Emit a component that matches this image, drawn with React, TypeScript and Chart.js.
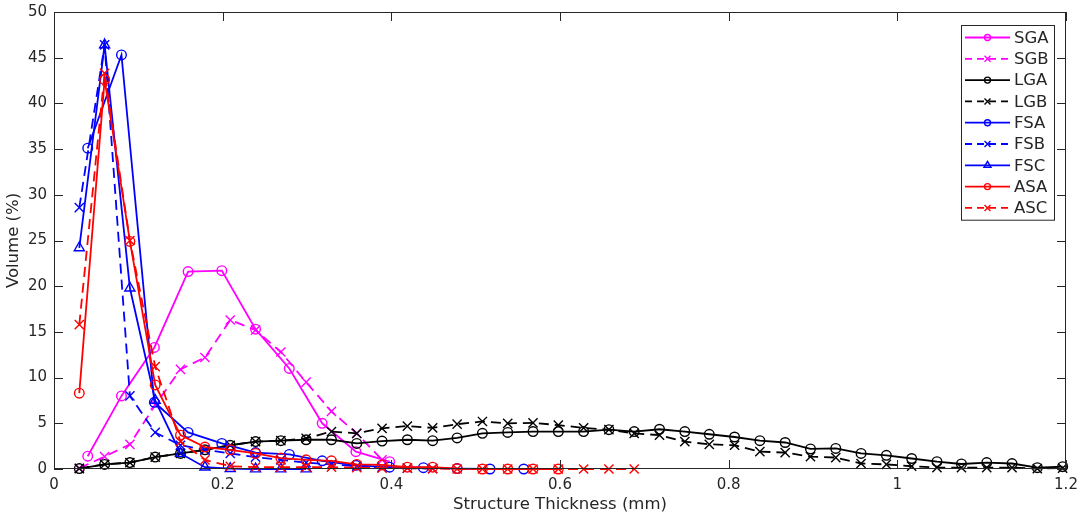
import { useEffect, useRef } from "react"
import { Chart, registerables } from "chart.js"

Chart.register(...registerables)

// bin centres (mm) of the two thickness grids
const X_FINE = [
  0.03, 0.06, 0.09, 0.12, 0.15, 0.179, 0.209, 0.239, 0.269, 0.299,
  0.329, 0.359, 0.389, 0.419, 0.449, 0.478, 0.508, 0.538, 0.568, 0.598,
  0.628, 0.658, 0.688, 0.718, 0.748, 0.777, 0.807, 0.837, 0.867, 0.897,
  0.927, 0.957, 0.987, 1.017, 1.047, 1.076, 1.106, 1.136, 1.166, 1.196,
]
const X_COARSE = [0.04, 0.08, 0.119, 0.159, 0.199, 0.239, 0.279, 0.318, 0.358, 0.398, 0.438, 0.478, 0.517, 0.557]

// volume (%)
const SGA = [1.4, 8.0, 13.3, 21.6, 21.7, 15.3, 11.0, 5.0, 1.9, 0.8]
const SGB = [0.1, 1.35, 2.7, 7.0, 10.9, 12.2, 16.3, 15.2, 12.8, 9.5, 6.3, 3.9, 1.0]
const LGA = [
  0.05, 0.5, 0.7, 1.3, 1.7, 2.1, 2.6, 3.0, 3.1, 3.2, 3.2, 2.8, 3.05, 3.2, 3.1, 3.4, 3.9, 4.0, 4.1, 4.1,
  4.1, 4.3, 4.1, 4.35, 4.1, 3.8, 3.5, 3.1, 2.9, 2.2, 2.25, 1.7, 1.5, 1.15, 0.8, 0.55, 0.7, 0.6, 0.15, 0.25,
]
const LGB = [
  0.05, 0.5, 0.7, 1.3, 1.7, 2.1, 2.6, 3.0, 3.1, 3.35, 4.1, 3.9, 4.45, 4.7, 4.5, 4.9, 5.2, 5.0, 5.05, 4.8,
  4.5, 4.3, 3.9, 3.7, 3.0, 2.7, 2.6, 1.9, 1.8, 1.35, 1.25, 0.6, 0.5, 0.3, 0.15, 0.15, 0.15, 0.15, 0.05, 0.1,
]
const FSA = [35.1, 45.3, 7.3, 4.0, 2.8, 1.8, 1.6, 0.9, 0.4, 0.2, 0.15, 0.05, 0, 0]
const FSB = [28.6, 46.4, 8.0, 4.0, 2.6, 2.1, 1.7, 1.3, 1.0, 0.7, 0.5, 0.3, 0.2, 0.1, 0.05]
const FSC = [24.2, 46.4, 19.8, 7.5, 1.7, 0.2, 0.05, 0, 0, 0]
const ASA = [8.3, 42.6, 24.9, 9.2, 3.7, 2.4, 2.1, 1.7, 1.2, 1.0, 0.9, 0.5, 0.45, 0.2, 0.2, 0.05, 0, 0, 0, 0]
const ASC = [15.8, 43.3, 25.0, 11.2, 3.0, 1.0, 0.3, 0.2, 0.2, 0.2, 0.2, 0.15, 0.1, 0.1, 0.05, 0, 0, 0, 0, 0, 0, 0, 0]

const X_TICKS = [0, 0.2, 0.4, 0.6, 0.8, 1, 1.2]
const Y_TICKS = [0, 5, 10, 15, 20, 25, 30, 35, 40, 45, 50]

type Marker = "circle" | "crossRot" | "triangle"

const SERIES: { label: string; xs: number[]; ys: number[]; color: string; dashed: boolean; marker: Marker }[] = [
  { label: "SGA", xs: X_COARSE, ys: SGA, color: "#ff00ff", dashed: false, marker: "circle" },
  { label: "SGB", xs: X_FINE, ys: SGB, color: "#ff00ff", dashed: true, marker: "crossRot" },
  { label: "LGA", xs: X_FINE, ys: LGA, color: "#000000", dashed: false, marker: "circle" },
  { label: "LGB", xs: X_FINE, ys: LGB, color: "#000000", dashed: true, marker: "crossRot" },
  { label: "FSA", xs: X_COARSE, ys: FSA, color: "#0000ff", dashed: false, marker: "circle" },
  { label: "FSB", xs: X_FINE, ys: FSB, color: "#0000ff", dashed: true, marker: "crossRot" },
  { label: "FSC", xs: X_FINE, ys: FSC, color: "#0000ff", dashed: false, marker: "triangle" },
  { label: "ASA", xs: X_FINE, ys: ASA, color: "#ff0000", dashed: false, marker: "circle" },
  { label: "ASC", xs: X_FINE, ys: ASC, color: "#ff0000", dashed: true, marker: "crossRot" },
]

const AXIS_COLOR = "#262626"
const DASH = [10, 6]

const markerRadius = (m: Marker) => (m === "circle" ? 4.8 : m === "triangle" ? 5.8 : 6.5)

// MATLAB-like box with inward ticks on all four sides
const axesBox = {
  id: "axesBox",
  afterDatasetsDraw(chart: any) {
    const { ctx, chartArea: a } = chart
    const xs = chart.scales.x
    const ys = chart.scales.y
    const len = 9
    ctx.save()
    ctx.setLineDash([])
    ctx.strokeStyle = AXIS_COLOR
    ctx.fillStyle = AXIS_COLOR
    ctx.lineWidth = 1
    ctx.strokeRect(a.left + 0.5, a.top + 0.5, a.right - a.left - 1, a.bottom - a.top - 1)
    for (const v of X_TICKS) {
      const px = Math.round(xs.getPixelForValue(v))
      ctx.fillRect(px, a.bottom - len, 1, len)
      ctx.fillRect(px, a.top, 1, len)
    }
    for (const v of Y_TICKS) {
      const py = Math.round(ys.getPixelForValue(v))
      ctx.fillRect(a.left, py, len, 1)
      ctx.fillRect(a.right - len, py, len, 1)
    }
    ctx.restore()
  },
}

const drawMarker = (ctx: CanvasRenderingContext2D, m: Marker, x: number, y: number, r: number) => {
  ctx.beginPath()
  if (m === "circle") {
    ctx.arc(x, y, r, 0, Math.PI * 2)
  } else if (m === "triangle") {
    ctx.moveTo(x, y - r)
    ctx.lineTo(x + r * 0.87, y + r * 0.5)
    ctx.lineTo(x - r * 0.87, y + r * 0.5)
    ctx.closePath()
  } else {
    ctx.moveTo(x - r, y - r)
    ctx.lineTo(x + r, y + r)
    ctx.moveTo(x + r, y - r)
    ctx.lineTo(x - r, y + r)
  }
  ctx.stroke()
}

// legend box in the top right corner, line + marker samples
const legendBox = {
  id: "legendBox",
  afterDraw(chart: any) {
    const { ctx, chartArea: a } = chart
    const left = a.right - 105
    const top = a.top + 13
    const w = 93
    const rowH = 21.3
    const h = rowH * SERIES.length + 3
    ctx.save()
    ctx.fillStyle = "#ffffff"
    ctx.fillRect(left, top, w, h)
    ctx.strokeStyle = AXIS_COLOR
    ctx.lineWidth = 1
    ctx.strokeRect(left + 0.5, top + 0.5, w, h)
    ctx.font = "16.5px 'DejaVu Sans'"
    ctx.textBaseline = "middle"
    ctx.textAlign = "left"
    SERIES.forEach((s, i) => {
      const y = top + 12.5 + i * rowH
      ctx.strokeStyle = s.color
      ctx.lineWidth = 1.8
      ctx.setLineDash(s.dashed ? [7, 5] : [])
      ctx.beginPath()
      ctx.moveTo(left + 4, y)
      ctx.lineTo(left + 49, y)
      ctx.stroke()
      ctx.setLineDash([])
      ctx.lineWidth = 1.4
      drawMarker(ctx, s.marker, left + 26.5, y, s.marker === "triangle" ? 4 : 3)
      ctx.fillStyle = AXIS_COLOR
      ctx.fillText(s.label, left + 53, y + 1)
    })
    ctx.restore()
  },
}

export default function App() {
  const chartRef = useRef<HTMLCanvasElement>(null)
  const chartInstance = useRef<Chart | null>(null)

  useEffect(() => {
    if (!chartRef.current) return
    Chart.defaults.font.family = "'DejaVu Sans'"
    Chart.defaults.color = AXIS_COLOR

    if (chartInstance.current) {
      chartInstance.current.destroy()
    }

    const n = SERIES.length
    const datasets = SERIES.map((s, i) => ({
      label: s.label,
      data: s.ys.map((y, k) => ({ x: s.xs[k], y })),
      borderColor: s.color,
      backgroundColor: "rgba(0,0,0,0)",
      borderWidth: 1.8,
      borderDash: s.dashed ? DASH : [],
      pointStyle: s.marker,
      pointRadius: markerRadius(s.marker),
      pointBorderWidth: 1.4,
      pointBorderColor: s.color,
      pointBackgroundColor: "rgba(0,0,0,0)",
      tension: 0,
      fill: false,
      clip: false as const,
      // later series are painted over earlier ones
      order: n - 1 - i,
    }))

    const ctx = chartRef.current.getContext("2d")
    if (ctx) {
      chartInstance.current = new Chart(ctx, {
        type: "line",
        data: { datasets },
        options: {
          responsive: true,
          maintainAspectRatio: false,
          animation: false,
          layout: { padding: { left: 0, top: 12, right: 18, bottom: 0 } },
          scales: {
            x: {
              type: "linear",
              min: 0,
              max: 1.2,
              afterFit: (scale: any) => {
                scale.height = 53
                scale.paddingLeft = 0
                scale.paddingRight = 0
              },
              afterBuildTicks: (scale: any) => {
                scale.ticks = X_TICKS.map((v) => ({ value: v }))
              },
              grid: { display: false, drawTicks: false },
              border: { display: false },
              ticks: {
                padding: 7,
                font: { size: 15 },
                color: AXIS_COLOR,
                maxRotation: 0,
                callback: (v: any) => String(Number(Number(v).toFixed(1))),
              },
              title: {
                display: true,
                text: "Structure Thickness (mm)",
                font: { size: 16.5 },
                color: AXIS_COLOR,
                padding: { top: 0, bottom: 7 },
              },
            },
            y: {
              type: "linear",
              min: 0,
              max: 50,
              afterFit: (scale: any) => {
                scale.width = 54
                scale.paddingTop = 0
                scale.paddingBottom = 0
              },
              afterBuildTicks: (scale: any) => {
                scale.ticks = Y_TICKS.map((v) => ({ value: v }))
              },
              grid: { display: false, drawTicks: false },
              border: { display: false },
              ticks: {
                padding: 7,
                font: { size: 15 },
                color: AXIS_COLOR,
              },
              title: {
                display: true,
                text: "Volume (%)",
                font: { size: 16.5 },
                color: AXIS_COLOR,
                padding: { top: 4, bottom: 0 },
              },
            },
          },
          plugins: {
            legend: { display: false },
            tooltip: { enabled: false },
          },
        },
        plugins: [axesBox, legendBox],
      })
    }

    return () => {
      if (chartInstance.current) {
        chartInstance.current.destroy()
        chartInstance.current = null
      }
    }
  }, [])

  return (
    <div style={{ position: "fixed", left: 0, top: 0, width: 1084, height: 522, background: "#ffffff" }}>
      <canvas ref={chartRef}></canvas>
    </div>
  )
}
